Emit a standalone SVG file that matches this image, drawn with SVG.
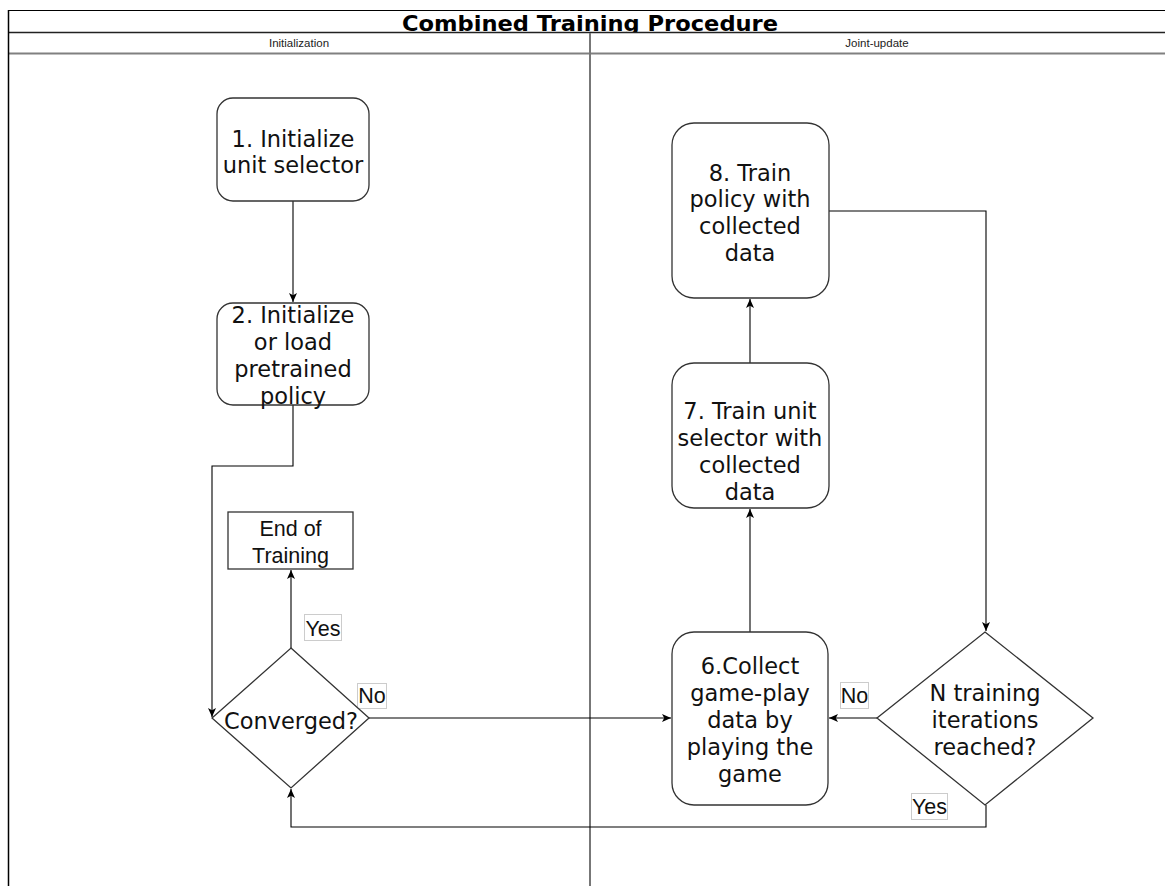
<svg xmlns="http://www.w3.org/2000/svg" width="1165" height="886" viewBox="0 0 1165 886">
  <style>
    .node { fill: #ffffff; stroke: #333333; stroke-width: 1.3; }
    .edge { fill: none; stroke: #000000; stroke-width: 1.1; }
    .lbl-box { fill: #ffffff; stroke: #cccccc; stroke-width: 1; }
    .t { font-family: "DejaVu Sans", Verdana, sans-serif; font-size: 22.5px; fill: #111111; text-anchor: middle; }
    .s { font-family: "Liberation Sans", Arial, sans-serif; font-size: 21.5px; fill: #111111; text-anchor: middle; }
    .lane { font-family: "Liberation Sans", Arial, sans-serif; font-size: 11.5px; fill: #222222; text-anchor: middle; }
    .title { font-family: "DejaVu Sans", Verdana, sans-serif; font-size: 21px; font-weight: bold; fill: #000000; text-anchor: middle; }
  </style>
  <defs>
    <marker id="arrow" markerUnits="userSpaceOnUse" markerWidth="11" markerHeight="11" refX="10" refY="5.5" orient="auto">
      <path d="M1,1.5 L10,5.5 L1,9.5 L3.2,5.5 z" fill="#000000"/>
    </marker>
  </defs>

  <rect x="0" y="0" width="1165" height="886" fill="#ffffff"/>

  <!-- pool: title band, lane headers and lane divider -->
  <g id="pool">
    <text class="title" x="590" y="31" textLength="376" lengthAdjust="spacingAndGlyphs">Combined Training Procedure</text>
    <rect x="9" y="32" width="1160" height="21" fill="#ffffff"/>
    <line x1="8" y1="10.5" x2="1165" y2="10.5" stroke="#000000" stroke-width="1.2"/>
    <line x1="8" y1="32.5" x2="1165" y2="32.5" stroke="#222222" stroke-width="1.5"/>
    <line x1="8" y1="53.5" x2="1165" y2="53.5" stroke="#808080" stroke-width="2"/>
    <line x1="8.5" y1="10" x2="8.5" y2="886" stroke="#000000" stroke-width="1.5"/>
    <line x1="590" y1="33" x2="590" y2="886" stroke="#777777" stroke-width="2"/>
    <text class="lane" x="299" y="47">Initialization</text>
    <text class="lane" x="877" y="47">Joint-update</text>
  </g>

  <!-- connectors -->
  <g id="connectors">
    <path class="edge" d="M293 201 V302" marker-end="url(#arrow)"/>
    <path class="edge" d="M293 405 V466 H212 V717" marker-end="url(#arrow)"/>
    <path class="edge" d="M291 648 V570" marker-end="url(#arrow)"/>
    <path class="edge" d="M369 718 H671" marker-end="url(#arrow)"/>
    <path class="edge" d="M750 632 V509" marker-end="url(#arrow)"/>
    <path class="edge" d="M750 363 V299" marker-end="url(#arrow)"/>
    <path class="edge" d="M829 211 H986 V631" marker-end="url(#arrow)"/>
    <path class="edge" d="M877 718 H829" marker-end="url(#arrow)"/>
    <path class="edge" d="M986 805 V827 H291 V789" marker-end="url(#arrow)"/>
  </g>

  <!-- edge labels -->
  <g id="label-yes-end">
    <rect class="lbl-box" x="304.5" y="614.5" width="37" height="26"/>
    <text class="s" x="323" y="636">Yes</text>
  </g>
  <g id="label-no-collect">
    <rect class="lbl-box" x="357.5" y="683.5" width="29" height="25"/>
    <text class="s" x="372" y="703">No</text>
  </g>
  <g id="label-no-iter">
    <rect class="lbl-box" x="840.5" y="682.5" width="28" height="26"/>
    <text class="s" x="854.5" y="703">No</text>
  </g>
  <g id="label-yes-iter">
    <rect class="lbl-box" x="911.5" y="793.5" width="36" height="26"/>
    <text class="s" x="929.5" y="814">Yes</text>
  </g>

  <!-- initialization lane -->
  <g id="node-init-selector">
    <rect class="node" x="217" y="98" width="152" height="103" rx="16"/>
    <text class="t" x="293" y="147">1. Initialize</text>
    <text class="t" x="293" y="173">unit selector</text>
  </g>
  <g id="node-init-policy">
    <rect class="node" x="217" y="303" width="152" height="102" rx="16"/>
    <text class="t" x="293" y="323">2. Initialize</text>
    <text class="t" x="293" y="350">or load</text>
    <text class="t" x="293" y="377">pretrained</text>
    <text class="t" x="293" y="404">policy</text>
  </g>
  <g id="node-end">
    <rect class="node" x="228" y="512" width="125" height="57"/>
    <text class="s" x="290.5" y="536">End of</text>
    <text class="s" x="290.5" y="563">Training</text>
  </g>
  <g id="node-converged">
    <polygon class="node" points="291,648 369,718 291,788 212,718"/>
    <text class="t" x="291" y="729">Converged?</text>
  </g>

  <!-- joint-update lane -->
  <g id="node-train-policy">
    <rect class="node" x="672" y="123" width="157" height="175" rx="22"/>
    <text class="t" x="750" y="181">8. Train</text>
    <text class="t" x="750" y="207">policy with</text>
    <text class="t" x="750" y="234">collected</text>
    <text class="t" x="750" y="261">data</text>
  </g>
  <g id="node-train-selector">
    <rect class="node" x="672" y="363" width="157" height="145" rx="22"/>
    <text class="t" x="750" y="419">7. Train unit</text>
    <text class="t" x="750" y="446">selector with</text>
    <text class="t" x="750" y="473">collected</text>
    <text class="t" x="750" y="500">data</text>
  </g>
  <g id="node-collect">
    <rect class="node" x="672" y="632" width="156" height="173" rx="22"/>
    <text class="t" x="750" y="674">6.Collect</text>
    <text class="t" x="750" y="701">game-play</text>
    <text class="t" x="750" y="728">data by</text>
    <text class="t" x="750" y="755">playing the</text>
    <text class="t" x="750" y="782">game</text>
  </g>
  <g id="node-iterations">
    <polygon class="node" points="985,632 1093,718 985,805 877,718"/>
    <text class="t" x="985" y="701">N training</text>
    <text class="t" x="985" y="728">iterations</text>
    <text class="t" x="985" y="755">reached?</text>
  </g>
</svg>
